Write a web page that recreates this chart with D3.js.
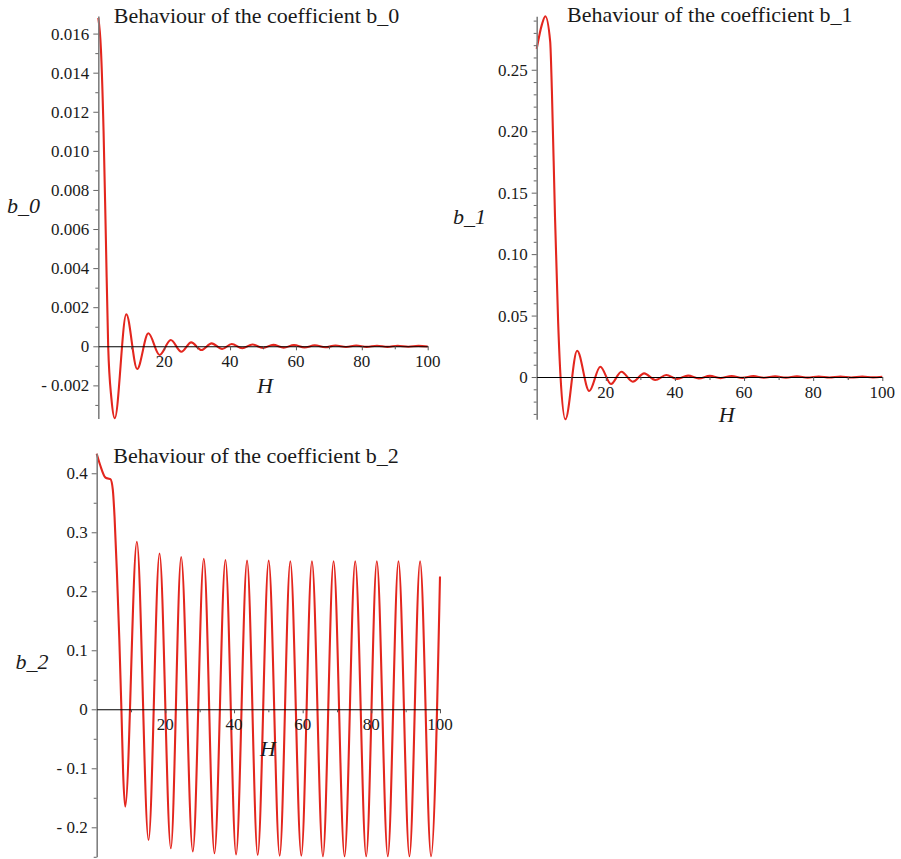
<!DOCTYPE html>
<html><head><meta charset="utf-8">
<script src="https://cdn.jsdelivr.net/npm/d3@7"></script>
<style>
body{margin:0;background:#fff}
</style></head>
<body><svg id="c" width="901" height="859" font-family="Liberation Serif, Times New Roman, serif"></svg>
<script>
// ---- data ----
const b0H = [0, 0.8, 1.6, 2.3, 3.0, 4.0, 5.0, 8.5, 11.8, 15.2, 18.6, 22.0, 25.2, 28.2, 31.3, 34.4, 37.6, 40.5, 43.7, 46.8, 50.0, 53.1, 56.3, 59.4, 62.6, 65.7, 68.9, 72.0, 75.2, 78.3, 81.5, 84.6, 87.8, 90.9, 94.1, 97.2, 100];
const b0V = [0.0168, 0.0152, 0.0110, 0.0055, 0.0, -0.0027, -0.00368, 0.00164, -0.00116, 0.000665, -0.000445, 0.00032, -0.00028, 0.0002, -0.00019, 0.00015, -0.00014, 0.00012, -0.0001, 0.00009, -0.00008, 0.00007, -0.00007, 0.00006, -0.00006, 0.00005, -0.00005, 0.00004, -0.00004, 0.00004, -0.00003, 0.00003, -0.00003, 0.00003, -0.00002, 0.00002, -0.00001];

const b1H = [0, 1.5, 2.5, 3.9, 4.4, 5.3, 6.2, 6.9, 8.3, 11.7, 15.2, 18.4, 21.5, 24.5, 27.8, 31.1, 34.3, 37.5, 40.6, 43.8, 46.9, 50.1, 53.2, 56.4, 59.5, 62.7, 65.8, 69.0, 72.1, 75.3, 78.4, 81.6, 84.7, 87.9, 91.0, 94.2, 97.3, 100];
const b1V = [0.267, 0.2867, 0.2935, 0.273, 0.2325, 0.13, 0.045, 0, -0.0344, 0.0214, -0.0114, 0.0084, -0.0057, 0.0043, -0.0038, 0.003, -0.0024, 0.0016, -0.0016, 0.0011, -0.0011, 0.0009, -0.0009, 0.0008, -0.0007, 0.0007, -0.0006, 0.0006, -0.0005, 0.0005, -0.0005, 0.0004, -0.0004, 0.0004, -0.0004, 0.0003, -0.0003, 0.0002];

const b2H = [0, 1.0, 2.5, 3.3, 4.0, 4.7, 5.2, 5.9, 6.6, 7.2, 7.7, 8.3, 11.7, 15.1, 18.3, 21.6, 24.6, 28.0, 31.2, 34.3, 37.5, 40.6, 43.8, 46.9, 50.1, 53.3, 56.4, 59.6, 62.7, 65.9, 69.0, 72.2, 75.3, 78.5, 81.6, 84.8, 87.9, 91.1, 94.2, 97.4, 100];
const b2V = [0.433, 0.414, 0.393, 0.391, 0.390, 0.372, 0.326, 0.23, 0.117, 0, -0.108, -0.165, 0.284, -0.2215, 0.264, -0.2356, 0.258, -0.241, 0.255, -0.244, 0.253, -0.246, 0.252, -0.247, 0.252, -0.248, 0.251, -0.248, 0.251, -0.249, 0.251, -0.249, 0.251, -0.249, 0.251, -0.249, 0.251, -0.249, 0.251, -0.249, 0.225];

const xMajor = [20, 40, 60, 80, 100];
const xMajorLabels = ["20", "40", "60", "80", "100"];
const xMinor = [10, 30, 50, 70, 90];

const y0Major = [-0.002, 0, 0.002, 0.004, 0.006, 0.008, 0.010, 0.012, 0.014, 0.016];
const y0Labels = ["- 0.002", "0", "0.002", "0.004", "0.006", "0.008", "0.010", "0.012", "0.014", "0.016"];
const y0Minor = [-0.003, -0.001, 0.001, 0.003, 0.005, 0.007, 0.009, 0.011, 0.013, 0.015];

const y1Major = [0, 0.05, 0.10, 0.15, 0.20, 0.25];
const y1Labels = ["0", "0.05", "0.10", "0.15", "0.20", "0.25"];
const y1Minor = [-0.03, -0.02, -0.01, 0.01, 0.02, 0.03, 0.04, 0.06, 0.07, 0.08, 0.09, 0.11, 0.12, 0.13, 0.14, 0.16, 0.17, 0.18, 0.19, 0.21, 0.22, 0.23, 0.24, 0.26, 0.27, 0.28, 0.29];

const y2Major = [-0.2, -0.1, 0, 0.1, 0.2, 0.3, 0.4];
const y2Labels = ["- 0.2", "- 0.1", "0", "0.1", "0.2", "0.3", "0.4"];
const y2Minor = [-0.25, -0.15, -0.05, 0.05, 0.15, 0.25, 0.35];

const titles = ["Behaviour of the coefficient b_0", "Behaviour of the coefficient b_1", "Behaviour of the coefficient b_2"];
const yNames = ["b_0", "b_1", "b_2"];
const xName = "H";

// ---- layout ----
const panels = [
  {H: b0H, V: b0V, yDom: [-0.0037, 0.0169], x0: 98.3, x1: 427.7, yBot: 418.6, yTop: 16,
   yMajor: y0Major, yLabels: y0Labels, yMinor: y0Minor, title: titles[0], titleX: 256.5, titleY: 23,
   yName: yNames[0], yNameX: 23.5, yNameY: 213, xNameX: 265, xNameY: 393},
  {H: b1H, V: b1V, yDom: [-0.0344, 0.2935], x0: 536.7, x1: 882.3, yBot: 419.3, yTop: 16.3,
   yMajor: y1Major, yLabels: y1Labels, yMinor: y1Minor, title: titles[1], titleX: 709.8, titleY: 22,
   yName: yNames[1], yNameX: 469.5, yNameY: 224, xNameX: 726.7, xNameY: 422},
  {H: b2H, V: b2V, yDom: [-0.25, 0.434], x0: 96.7, x1: 440, yBot: 856.8, yTop: 453.2,
   yMajor: y2Major, yLabels: y2Labels, yMinor: y2Minor, title: titles[2], titleX: 256, titleY: 462.5,
   yName: yNames[2], yNameX: 32, yNameY: 669, xNameX: 268, xNameY: 756}
];

const svg = d3.select("#c");
const RED = "#e3261e";
const SERIF = "Liberation Serif, Times New Roman, serif";

function label(g, xx, yy, txt, size, anchor, italic) {
  return g.append("text").attr("x", xx).attr("y", yy)
    .attr("text-anchor", anchor).attr("font-family", SERIF)
    .attr("font-size", size).attr("font-style", italic ? "italic" : "normal")
    .attr("fill", "#1a1a1a").text(txt);
}

panels.forEach(p => {
  const g = svg.append("g");
  const x = d3.scaleLinear().domain([0, 100]).range([p.x0, p.x1]);
  const y = d3.scaleLinear().domain(p.yDom).range([p.yBot, p.yTop]);
  const pts = p.H.map((h, i) => [h, p.V[i]]);

  // curve
  g.append("path").datum(pts)
    .attr("fill", "none").attr("stroke", RED).attr("stroke-width", 2.1)
    .attr("stroke-linejoin", "round")
    .attr("d", d3.line().x(d => x(d[0])).y(d => y(d[1])).curve(d3.curveMonotoneX));

  // y axis: line + ticks from d3 axis, labels drawn as own text
  const ya = g.append("g").attr("transform", `translate(${p.x0},0)`)
    .call(d3.axisLeft(y).tickValues(p.yMajor).tickFormat("").tickSize(5).tickSizeOuter(0));
  ya.select(".domain").attr("stroke", "#808080").attr("stroke-width", 1.6);
  ya.selectAll(".tick line").attr("stroke", "#666");
  const ym = g.append("g").attr("transform", `translate(${p.x0},0)`)
    .call(d3.axisLeft(y).tickValues(p.yMinor).tickFormat("").tickSize(3).tickSizeOuter(0));
  ym.select(".domain").remove();
  ym.selectAll(".tick line").attr("stroke", "#666");
  p.yMajor.forEach((v, i) => label(g, p.x0 - 9, y(v) + 6, p.yLabels[i], 17, "end", false));

  // x axis at y=0
  const xa = g.append("g").attr("transform", `translate(0,${y(0)})`)
    .call(d3.axisBottom(x).tickValues(xMajor).tickFormat("").tickSize(4).tickSizeOuter(0));
  xa.select(".domain").attr("stroke", "#000").attr("stroke-width", 1.1);
  xa.selectAll(".tick line").attr("stroke", "#555");
  const xm = g.append("g").attr("transform", `translate(0,${y(0)})`)
    .call(d3.axisBottom(x).tickValues(xMinor).tickFormat("").tickSize(3).tickSizeOuter(0));
  xm.select(".domain").remove();
  xm.selectAll(".tick line").attr("stroke", "#555");
  xMajor.forEach((v, i) => label(g, x(v), y(0) + 21, xMajorLabels[i], 17, "middle", false));

  // title and axis names
  label(g, p.titleX, p.titleY, p.title, 22, "middle", false);
  label(g, p.yNameX, p.yNameY, p.yName, 22, "middle", true);
  label(g, p.xNameX, p.xNameY, xName, 22, "middle", true);
});
</script>
</body></html>
